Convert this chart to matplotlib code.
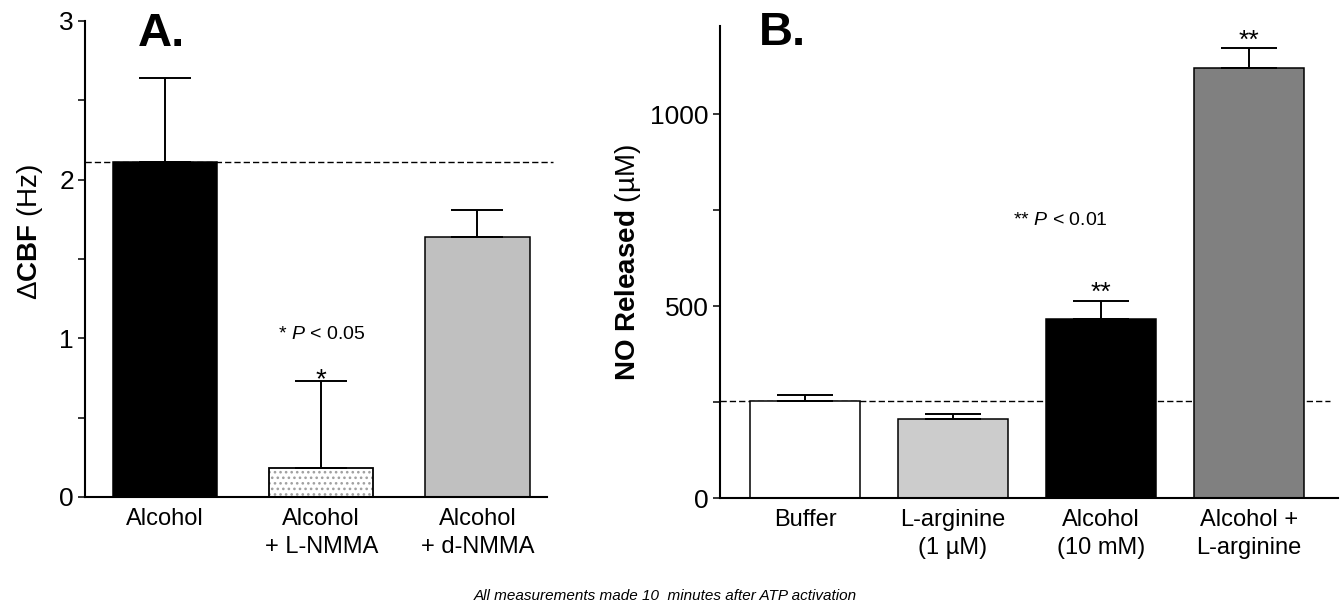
import numpy as np
import matplotlib
matplotlib.use("Agg")
import matplotlib.pyplot as plt
from matplotlib.ticker import MultipleLocator

plt.rcParams["font.family"] = ["Liberation Sans", "DejaVu Sans"]
plt.rcParams["mathtext.fontset"] = "custom"
plt.rcParams["mathtext.rm"] = "Liberation Sans"
plt.rcParams["mathtext.it"] = "Liberation Sans:italic"
plt.rcParams["mathtext.bf"] = "Liberation Sans:bold"
plt.rcParams["hatch.linewidth"] = 1.1
plt.rcParams["hatch.color"] = "#a0a0a0"

# ── Panel A data: change in ciliary beat frequency ──────────────────────────
a_labels = ["Alcohol", "Alcohol\n+ L-NMMA", "Alcohol\n+ d-NMMA"]
a_mean = [2.11, 0.18, 1.64]
a_sem = [0.53, 0.55, 0.17]
a_colors = ["black", "white", "#c0c0c0"]

# ── Panel B data: NO released ────────────────────────────────────────────────
b_labels = ["Buffer", "L-arginine\n(1 µM)", "Alcohol\n(10 mM)", "Alcohol +\nL-arginine"]
b_mean = [253, 206, 467, 1120]
b_sem = [15, 12, 47, 52]
b_colors = ["white", "#cccccc", "black", "#808080"]

W, H = 1344, 608
fig = plt.figure(figsize=(W / 100, H / 100), dpi=100)

def px_axes(left, right, top, bottom):
    return fig.add_axes([left / W, 1 - bottom / H, (right - left) / W, (bottom - top) / H])

def style(ax):
    for s in ["top", "right"]:
        ax.spines[s].set_visible(False)
    for s in ["left", "bottom"]:
        ax.spines[s].set_linewidth(1.5)
    ax.tick_params(axis="y", which="both", direction="out", length=5, width=1.1,
                   labelsize=19, pad=3)
    ax.tick_params(axis="x", length=0, labelsize=17, pad=8)
    for t in ax.get_xticklabels():
        t.set_linespacing(1.35)

# ── Panel A ──────────────────────────────────────────────────────────────────
axA = px_axes(85, 547, 21, 497)
xa = np.arange(len(a_mean))
axA.axhline(a_mean[0], xmin=0, xmax=1.012, color="black", lw=1.0,
            ls=(0, (4.5, 2.2)), zorder=1, clip_on=False)
for i in range(len(a_mean)):
    if i == 1:
        axA.bar(xa[i], a_mean[i], width=0.666, color="white", edgecolor="#a0a0a0",
                hatch="...", linewidth=0, zorder=2)
        axA.bar(xa[i], a_mean[i], width=0.666, color="none", edgecolor="black",
                linewidth=1.3, zorder=2.5)
    else:
        axA.bar(xa[i], a_mean[i], width=0.666, color=a_colors[i], edgecolor="black",
                linewidth=1.1, zorder=2)
axA.errorbar(xa, a_mean, yerr=[np.zeros(len(a_sem)), a_sem], fmt="none",
             ecolor="black", elinewidth=1.4, capsize=19, capthick=1.4, zorder=3)
axA.set_xlim(-0.512, 2.445)
axA.set_ylim(0, 3)
axA.yaxis.set_major_locator(MultipleLocator(1))
axA.yaxis.set_minor_locator(MultipleLocator(0.5))
axA.set_xticks(xa, a_labels)
style(axA)
axA.annotate("*", (xa[1], a_mean[1] + a_sem[1]), xytext=(0, -4), textcoords="offset points",
             ha="center", va="baseline", fontsize=20)
axA.text(1, 1.027, "* $P$ < 0.05", ha="center", va="center", fontsize=14)

# ── Panel B ──────────────────────────────────────────────────────────────────
axB = px_axes(720, 1338, 26, 498)
xb = np.arange(len(b_mean))
axB.axhline(b_mean[0], xmin=0, xmax=0.987, color="black", lw=1.0,
            ls=(0, (4.5, 2.2)), zorder=1)
axB.bar(xb, b_mean, width=0.743, color=b_colors, edgecolor="black", linewidth=1.1, zorder=2)
axB.errorbar(xb, b_mean, yerr=[np.zeros(len(b_sem)), b_sem], fmt="none",
             ecolor="black", elinewidth=1.4, capsize=20, capthick=1.4, zorder=3)
axB.set_xlim(-0.574, 3.601)
axB.set_ylim(0, 1230)
axB.yaxis.set_major_locator(MultipleLocator(500))
axB.yaxis.set_minor_locator(MultipleLocator(250))
axB.set_xticks(xb, b_labels)
style(axB)
for i in [2, 3]:
    axB.annotate("**", (xb[i], b_mean[i] + b_sem[i]), xytext=(0, 0.5),
                 textcoords="offset points", ha="center", va="baseline", fontsize=19)
axB.text(1.726, 723, "** $P$ < 0.01", ha="center", va="center", fontsize=14)

# ── Labels and panel letters ─────────────────────────────────────────────────
fig.text(30 / W, 1 - 231.5 / H, "Δ$\\mathbf{CBF}$ (Hz)", rotation=90,
         ha="center", va="center", fontsize=20)
fig.text(628 / W, 1 - 263 / H, "$\\mathbf{NO\\ Released}$ (µM)", rotation=90,
         ha="center", va="center", fontsize=20)
fig.text(138 / W, 1 - 46 / H, "A.", fontsize=34, fontweight="bold", va="baseline")
fig.text(759 / W, 1 - 45 / H, "B.", fontsize=34, fontweight="bold", va="baseline")
fig.text(857 / W, 1 - 596 / H, "All measurements made 10  minutes after ATP activation",
         ha="right", va="center", fontsize=11, style="italic")

fig.savefig("out.png", dpi=100)
